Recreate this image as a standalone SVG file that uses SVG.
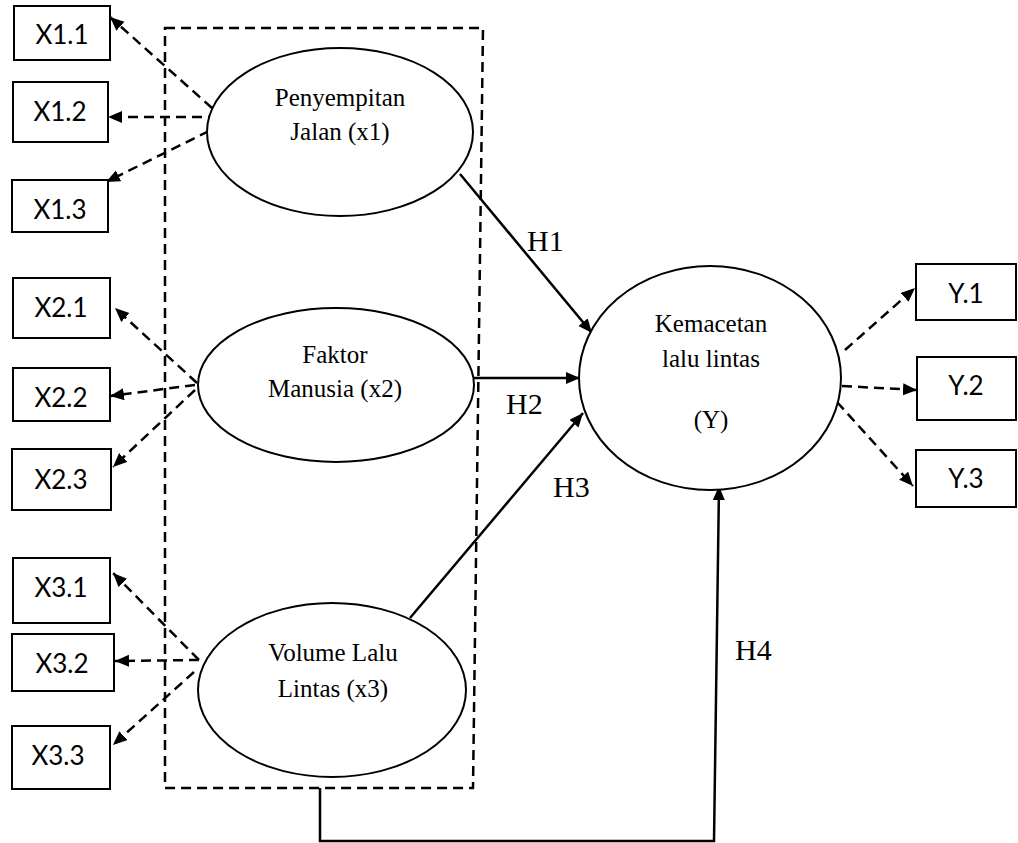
<svg xmlns="http://www.w3.org/2000/svg" width="1018" height="843" viewBox="0 0 1018 843">
<defs>
<style>
.box{fill:#fff;stroke:#000;stroke-width:2}
.ell{fill:#fff;stroke:#000;stroke-width:2}
.lbl{font-family:"Lato","Open Sans","Liberation Sans",sans-serif;font-size:26px;text-anchor:middle;fill:#000}
.t{font-family:"Liberation Serif","Times New Roman",serif;font-size:25px;text-anchor:middle;fill:#000}
.h{font-family:"Liberation Serif","Times New Roman",serif;font-size:30px;fill:#000}
.dash{fill:none;stroke:#000;stroke-width:2.5;stroke-dasharray:10 6}
.solid{fill:none;stroke:#000;stroke-width:2.5}
</style>
<marker id="ah" markerUnits="userSpaceOnUse" markerWidth="16" markerHeight="14" refX="14" refY="6" orient="auto">
<path d="M0,0 L14,6 L0,12 z" fill="#000"/>
</marker>
</defs>
<rect width="1018" height="843" fill="#fff"/>
<path id="group-box" class="dash" d="M165,28 L483,28 L473,788 L165,788 Z"/>
<g id="connectors">
<path class="dash" d="M212,108 L110,17" marker-end="url(#ah)"/>
<path class="dash" d="M218,117 L108,117" marker-end="url(#ah)"/>
<path class="dash" d="M209,131 L106,182" marker-end="url(#ah)"/>
<path class="dash" d="M197,383 L115,308" marker-end="url(#ah)"/>
<path class="dash" d="M195,385 L110,396" marker-end="url(#ah)"/>
<path class="dash" d="M195,390 L113,467" marker-end="url(#ah)"/>
<path class="dash" d="M199,660 L113,573" marker-end="url(#ah)"/>
<path class="dash" d="M199,660 L115,661" marker-end="url(#ah)"/>
<path class="dash" d="M194,672 L113,745" marker-end="url(#ah)"/>
<path class="solid" d="M460,174 L592,333" marker-end="url(#ah)"/>
<path class="solid" d="M473,378 L580,378" marker-end="url(#ah)"/>
<path class="solid" d="M410,618 L583,413" marker-end="url(#ah)"/>
<path class="solid" d="M320,788 L320,841 L714,841 L719,486" marker-end="url(#ah)"/>
<path class="dash" d="M845,350 L915,288" marker-end="url(#ah)"/>
<path class="dash" d="M842,386 L917,390" marker-end="url(#ah)"/>
<path class="dash" d="M837,402 L913,486" marker-end="url(#ah)"/>
<text class="h" x="527" y="251">H1</text>
<text class="h" x="506" y="414">H2</text>
<text class="h" x="553" y="497">H3</text>
<text class="h" x="735" y="660">H4</text>
</g>
<g id="x1">
<ellipse class="ell" cx="340" cy="132" rx="133" ry="84"/>
<text class="t" x="340" y="106">Penyempitan</text>
<text class="t" x="340" y="140">Jalan (x1)</text>
</g>
<g id="x2">
<ellipse class="ell" cx="336" cy="385" rx="138" ry="77"/>
<text class="t" x="335" y="363">Faktor</text>
<text class="t" x="335" y="397">Manusia (x2)</text>
</g>
<g id="x3">
<ellipse class="ell" cx="332" cy="690" rx="134" ry="87"/>
<text class="t" x="333" y="661">Volume Lalu</text>
<text class="t" x="333" y="697">Lintas (x3)</text>
</g>
<g id="y">
<ellipse class="ell" cx="710" cy="378" rx="131" ry="112"/>
<text class="t" x="711" y="332">Kemacetan</text>
<text class="t" x="711" y="367">lalu lintas</text>
<text class="t" x="711" y="428">(Y)</text>
</g>
<g id="X1.1"><rect class="box" x="14" y="6" width="96" height="54"/><text class="lbl" x="62" y="44">X1.1</text></g>
<g id="X1.2"><rect class="box" x="13" y="82" width="95" height="60"/><text class="lbl" x="60" y="121">X1.2</text></g>
<g id="X1.3"><rect class="box" x="12" y="180" width="96" height="52"/><text class="lbl" x="60" y="219">X1.3</text></g>
<g id="X2.1"><rect class="box" x="13" y="278" width="97" height="60"/><text class="lbl" x="61" y="317">X2.1</text></g>
<g id="X2.2"><rect class="box" x="13" y="368" width="97" height="53"/><text class="lbl" x="61" y="407">X2.2</text></g>
<g id="X2.3"><rect class="box" x="12" y="449" width="99" height="61"/><text class="lbl" x="61" y="489">X2.3</text></g>
<g id="X3.1"><rect class="box" x="13" y="558" width="97" height="65"/><text class="lbl" x="61" y="597">X3.1</text></g>
<g id="X3.2"><rect class="box" x="12" y="634" width="102" height="57"/><text class="lbl" x="62" y="673">X3.2</text></g>
<g id="X3.3"><rect class="box" x="12" y="726" width="98" height="63"/><text class="lbl" x="58" y="765">X3.3</text></g>
<g id="Y.1"><rect class="box" x="916" y="264" width="100" height="56"/><text class="lbl" x="966" y="303">Y.1</text></g>
<g id="Y.2"><rect class="box" x="917" y="357" width="99" height="63"/><text class="lbl" x="966" y="395">Y.2</text></g>
<g id="Y.3"><rect class="box" x="916" y="450" width="100" height="57"/><text class="lbl" x="966" y="488">Y.3</text></g>
</svg>
